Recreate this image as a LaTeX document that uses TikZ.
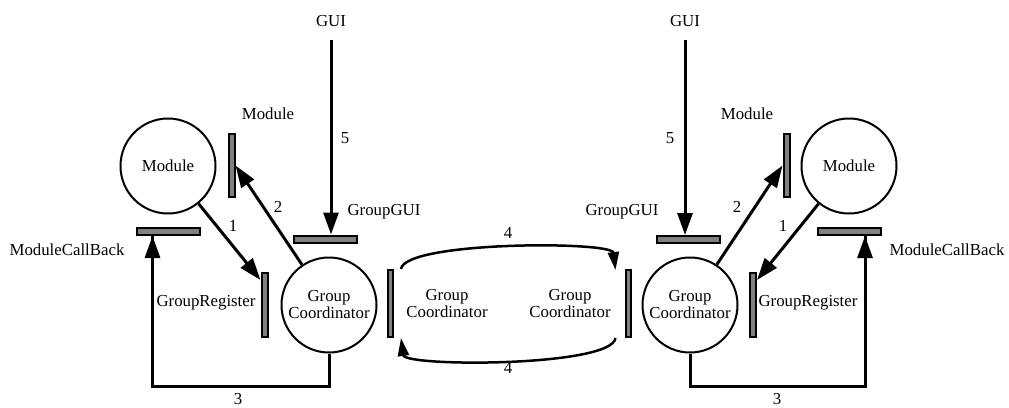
\documentclass[tikz,border=0pt]{standalone}
\usepackage{fontspec}
\setmainfont{Liberation Serif}
\usetikzlibrary{arrows.meta,calc}
\definecolor{barfill}{HTML}{808080}
\begin{document}
\begin{tikzpicture}[x=1pt,y=-1pt,
  every node/.style={font=\fontsize{16.8}{19}\selectfont, inner sep=0pt},
  bigcircle/.style={circle, draw, line width=2pt, minimum size=95pt, align=center},
  vbar/.style={draw, fill=barfill, line width=2pt, minimum width=6pt, minimum height=64pt},
  hbar/.style={draw, fill=barfill, line width=2pt, minimum width=63pt, minimum height=7pt},
  bigarrow/.style={line width=3pt, -{Triangle[length=22pt,width=15pt]}},
  plainline/.style={line width=3pt},
  curvearrow/.style={line width=2.5pt, -{Triangle[length=18pt,width=11pt]}},
  lbl/.style={}]
\useasboundingbox (0,0) rectangle (1009,407);

% ---------- left side ----------
\node[bigcircle] (modL) at (168,166) {Module};
\node[bigcircle] (coordL) at (329,305) {Group\\[-2pt]Coordinator};
\node[vbar, minimum height=63pt] (mbarL) at (231.5,165.5) {};
\node[vbar] (regL) at (264.5,305) {};
\node[hbar] (cbL) at (168.5,231.5) {};
\node[hbar] (ggL) at (325.5,239) {};
\coordinate (guiLtop) at (331,40);

\node (guiLtxt) at (331,21) {GUI};
\node (fiveL) at (345,138) {5};
\node (modlblL) at (268,114) {Module};
\node (gglblL) at (384,212) {GroupGUI};
\node (oneL) at (233,226) {1};
\node (twoL) at (278,207) {2};
\node (cblblL) at (67,250) {ModuleCallBack};
\node (reglblL) at (206,303) {GroupRegister};
\node (threeL) at (238,399) {3};

\draw[bigarrow] (guiLtop) -- (guiLtop |- ggL.north);
\draw[bigarrow] (modL) -- ([yshift=-8pt]regL.north west);
\draw[bigarrow] (coordL) -- (mbarL.east);
\draw[plainline] (coordL.south) -- ++(0,33) coordinate (c3L) -| ([xshift=-16pt]cbL.south) coordinate (c3Lend);
\draw[bigarrow] ([yshift=-1pt]c3Lend |- c3L) -- ([xshift=-16pt]cbL.south);

% ---------- centre ----------
\node[vbar, minimum width=5pt, minimum height=67pt] (cbarL) at (390.5,303.5) {};
\node[vbar, minimum width=5pt, minimum height=67pt] (cbarR) at (628,303.5) {};
\node[align=center] (gctxtL) at (447,304) {Group\\[-2pt]Coordinator};
\node[align=center] (gctxtR) at (570,304) {Group\\[-2pt]Coordinator};
\node (fourT) at (508,233) {4};
\node (fourB) at (508,368) {4};
\draw[curvearrow] ([xshift=7pt]cbarL.north east) .. controls (405,241) and (612,241) .. ([xshift=-9pt,yshift=-1pt]cbarR.north west);
\draw[curvearrow] ([xshift=-9pt]cbarR.south west) .. controls (612,367) and (405,367) .. ([xshift=7pt]cbarL.south east);

% ---------- right side ----------
\node[bigcircle] (modR) at (849,166) {Module};
\node[bigcircle] (coordR) at (690,305) {Group\\[-2pt]Coordinator};
\node[vbar, minimum height=63pt] (mbarR) at (786.5,165.5) {};
\node[vbar] (regR) at (753,305) {};
\node[hbar] (cbR) at (849,231.5) {};
\node[hbar] (ggR) at (688.5,239.5) {};
\coordinate (guiRtop) at (685,40);

\node (guiRtxt) at (685,21) {GUI};
\node (fiveR) at (670,138) {5};
\node (modlblR) at (747,114) {Module};
\node (gglblR) at (622,212) {GroupGUI};
\node (oneR) at (783,226) {1};
\node (twoR) at (737,207) {2};
\node (cblblR) at (947,250) {ModuleCallBack};
\node (reglblR) at (808,303) {GroupRegister};
\node (threeR) at (777,399) {3};

\draw[bigarrow] (guiRtop) -- (guiRtop |- ggR.north);
\draw[bigarrow] (modR) -- ([yshift=-8pt]regR.north east);
\draw[bigarrow] (coordR) -- (mbarR.west);
\draw[plainline] (coordR.south) -- ++(0,33) coordinate (c3R) -| ([xshift=16pt]cbR.south) coordinate (c3Rend);
\draw[bigarrow] ([yshift=-1pt]c3Rend |- c3R) -- ([xshift=16pt]cbR.south);
\end{tikzpicture}
\end{document}
